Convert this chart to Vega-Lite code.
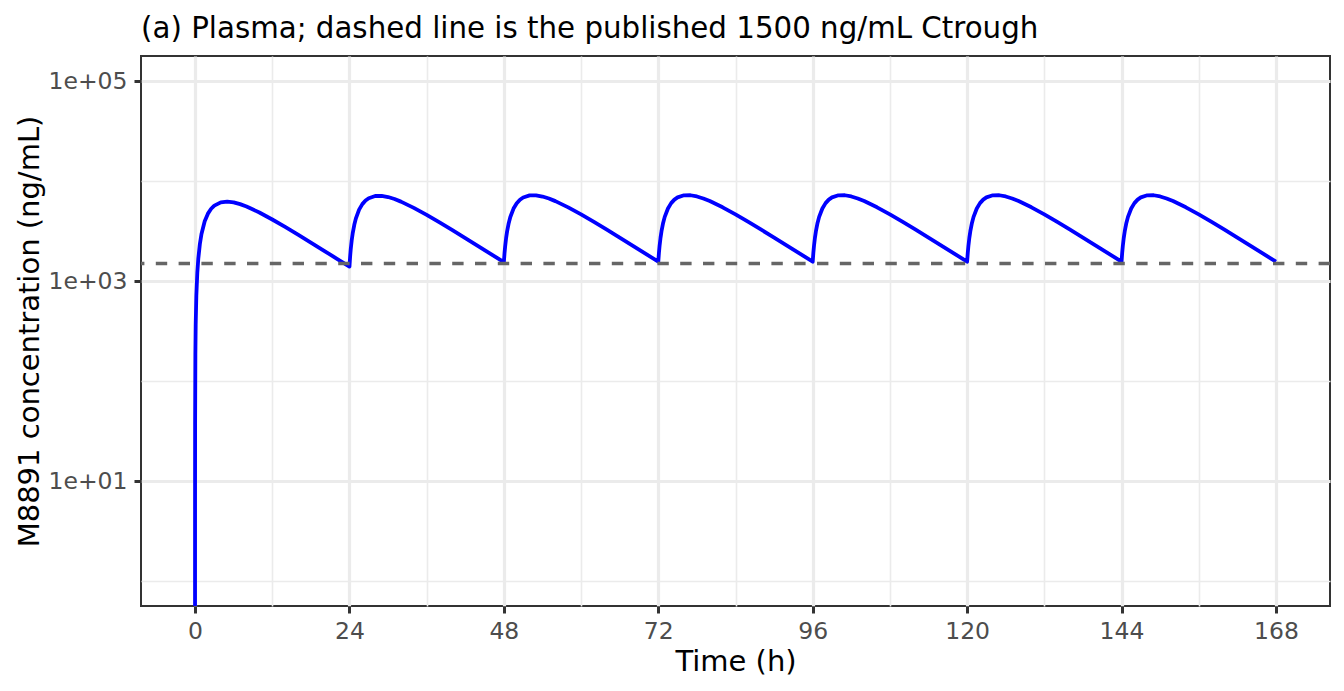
{
  "$schema": "https://vega.github.io/schema/vega-lite/v6.json",
  "width": 1189,
  "height": 550,
  "autosize": {"type": "none"},
  "padding": {"left": 141, "top": 56, "right": 14, "bottom": 85},
  "background": "white",
  "title": {
    "text": "(a) Plasma; dashed line is the published 1500 ng/mL Ctrough",
    "anchor": "start",
    "frame": "group",
    "font": "DejaVu Sans",
    "fontSize": 29.3,
    "fontWeight": "normal",
    "color": "#000000",
    "baseline": "alphabetic",
    "offset": 19,
    "dy": 30
  },
  "config": {
    "view": {"stroke": "#333333", "strokeWidth": 2},
    "axis": {
      "domain": false,
      "gridColor": "#EBEBEB",
      "tickColor": "#333333",
      "tickWidth": 3,
      "tickSize": 7,
      "labelFont": "DejaVu Sans",
      "labelFontSize": 23.5,
      "labelColor": "#4D4D4D",
      "titleFont": "DejaVu Sans",
      "titleFontSize": 29,
      "titleFontWeight": "normal",
      "titleColor": "#000000",
      "labelOverlap": false,
      "labelFlush": false
    }
  },
  "datasets": {
    "pk": [
      {"t": 0.0001, "c": 0.373},
      {"t": 0.001, "c": 3.73},
      {"t": 0.01, "c": 37.2},
      {"t": 0.05, "c": 184.3},
      {"t": 0.1, "c": 364.4},
      {"t": 0.2, "c": 711.8},
      {"t": 0.35, "c": 1202.6},
      {"t": 0.5, "c": 1658.9},
      {"t": 0.75, "c": 2348.1},
      {"t": 1, "c": 2955.3},
      {"t": 1.5, "c": 3955.4},
      {"t": 2, "c": 4713.8},
      {"t": 2.5, "c": 5275.5},
      {"t": 3, "c": 5677.4},
      {"t": 4, "c": 6118.3},
      {"t": 5, "c": 6221.4},
      {"t": 6, "c": 6111.0},
      {"t": 7, "c": 5870.4},
      {"t": 8, "c": 5555.9},
      {"t": 10, "c": 4838.3},
      {"t": 12, "c": 4122.7},
      {"t": 14, "c": 3472.3},
      {"t": 16, "c": 2905.9},
      {"t": 18, "c": 2423.5},
      {"t": 20, "c": 2017.2},
      {"t": 22, "c": 1677.3},
      {"t": 24, "c": 1393.9},
      {"t": 24.1, "c": 1746.8},
      {"t": 24.2, "c": 2081.3},
      {"t": 24.35, "c": 2553.2},
      {"t": 24.5, "c": 2990.8},
      {"t": 24.75, "c": 3649.4},
      {"t": 25, "c": 4226.7},
      {"t": 25.5, "c": 5169.1},
      {"t": 26, "c": 5872.2},
      {"t": 26.5, "c": 6381.3},
      {"t": 27, "c": 6733.0},
      {"t": 28, "c": 7080.2},
      {"t": 29, "c": 7097.9},
      {"t": 30, "c": 6909.6},
      {"t": 31, "c": 6598.2},
      {"t": 32, "c": 6218.9},
      {"t": 34, "c": 5388.9},
      {"t": 36, "c": 4579.8},
      {"t": 38, "c": 3851.8},
      {"t": 40, "c": 3221.0},
      {"t": 42, "c": 2685.0},
      {"t": 44, "c": 2234.4},
      {"t": 46, "c": 1857.6},
      {"t": 48, "c": 1543.6},
      {"t": 48.1, "c": 1895.2},
      {"t": 48.2, "c": 2228.3},
      {"t": 48.35, "c": 2698.2},
      {"t": 48.5, "c": 3133.8},
      {"t": 48.75, "c": 3789.1},
      {"t": 49, "c": 4363.2},
      {"t": 49.5, "c": 5299.4},
      {"t": 50, "c": 5996.5},
      {"t": 50.5, "c": 6500.0},
      {"t": 51, "c": 6846.3},
      {"t": 52, "c": 7183.4},
      {"t": 53, "c": 7192.0},
      {"t": 54, "c": 6995.3},
      {"t": 55, "c": 6676.3},
      {"t": 56, "c": 6290.1},
      {"t": 58, "c": 5448.0},
      {"t": 60, "c": 4628.9},
      {"t": 62, "c": 3892.5},
      {"t": 64, "c": 3254.8},
      {"t": 66, "c": 2713.1},
      {"t": 68, "c": 2257.7},
      {"t": 70, "c": 1877.0},
      {"t": 72, "c": 1559.7},
      {"t": 72.1, "c": 1912.6},
      {"t": 72.2, "c": 2245.5},
      {"t": 72.35, "c": 2715.2},
      {"t": 72.5, "c": 3150.6},
      {"t": 72.75, "c": 3805.5},
      {"t": 73, "c": 4379.2},
      {"t": 73.5, "c": 5314.7},
      {"t": 74, "c": 6011.1},
      {"t": 74.5, "c": 6513.9},
      {"t": 75, "c": 6859.6},
      {"t": 76, "c": 7195.5},
      {"t": 77, "c": 7203.0},
      {"t": 78, "c": 7005.3},
      {"t": 79, "c": 6685.5},
      {"t": 80, "c": 6298.4},
      {"t": 82, "c": 5454.9},
      {"t": 84, "c": 4634.6},
      {"t": 86, "c": 3897.3},
      {"t": 88, "c": 3258.8},
      {"t": 90, "c": 2716.4},
      {"t": 92, "c": 2260.4},
      {"t": 94, "c": 1879.3},
      {"t": 96, "c": 1561.6},
      {"t": 96.1, "c": 1912.6},
      {"t": 96.2, "c": 2245.5},
      {"t": 96.35, "c": 2715.2},
      {"t": 96.5, "c": 3150.6},
      {"t": 96.75, "c": 3805.5},
      {"t": 97, "c": 4379.2},
      {"t": 97.5, "c": 5314.7},
      {"t": 98, "c": 6011.1},
      {"t": 98.5, "c": 6513.9},
      {"t": 99, "c": 6859.6},
      {"t": 100, "c": 7195.5},
      {"t": 101, "c": 7203.0},
      {"t": 102, "c": 7005.3},
      {"t": 103, "c": 6685.5},
      {"t": 104, "c": 6298.4},
      {"t": 106, "c": 5454.9},
      {"t": 108, "c": 4634.6},
      {"t": 110, "c": 3897.3},
      {"t": 112, "c": 3258.8},
      {"t": 114, "c": 2716.4},
      {"t": 116, "c": 2260.4},
      {"t": 118, "c": 1879.3},
      {"t": 120, "c": 1561.6},
      {"t": 120.1, "c": 1912.6},
      {"t": 120.2, "c": 2245.5},
      {"t": 120.35, "c": 2715.2},
      {"t": 120.5, "c": 3150.6},
      {"t": 120.75, "c": 3805.5},
      {"t": 121, "c": 4379.2},
      {"t": 121.5, "c": 5314.7},
      {"t": 122, "c": 6011.1},
      {"t": 122.5, "c": 6513.9},
      {"t": 123, "c": 6859.6},
      {"t": 124, "c": 7195.5},
      {"t": 125, "c": 7203.0},
      {"t": 126, "c": 7005.3},
      {"t": 127, "c": 6685.5},
      {"t": 128, "c": 6298.4},
      {"t": 130, "c": 5454.9},
      {"t": 132, "c": 4634.6},
      {"t": 134, "c": 3897.3},
      {"t": 136, "c": 3258.8},
      {"t": 138, "c": 2716.4},
      {"t": 140, "c": 2260.4},
      {"t": 142, "c": 1879.3},
      {"t": 144, "c": 1561.6},
      {"t": 144.1, "c": 1912.6},
      {"t": 144.2, "c": 2245.5},
      {"t": 144.35, "c": 2715.2},
      {"t": 144.5, "c": 3150.6},
      {"t": 144.75, "c": 3805.5},
      {"t": 145, "c": 4379.2},
      {"t": 145.5, "c": 5314.7},
      {"t": 146, "c": 6011.1},
      {"t": 146.5, "c": 6513.9},
      {"t": 147, "c": 6859.6},
      {"t": 148, "c": 7195.5},
      {"t": 149, "c": 7203.0},
      {"t": 150, "c": 7005.3},
      {"t": 151, "c": 6685.5},
      {"t": 152, "c": 6298.4},
      {"t": 154, "c": 5454.9},
      {"t": 156, "c": 4634.6},
      {"t": 158, "c": 3897.3},
      {"t": 160, "c": 3258.8},
      {"t": 162, "c": 2716.4},
      {"t": 164, "c": 2260.4},
      {"t": 166, "c": 1879.3},
      {"t": 168, "c": 1561.6}
    ],
    "ref": [{"c": 1500}]
  },
  "layer": [
    {
      "data": {"name": "pk"},
      "mark": {"type": "line", "color": "#0000FF", "strokeWidth": 3.8, "clip": true, "strokeJoin": "round"},
      "encoding": {
        "x": {
          "field": "t",
          "type": "quantitative",
          "scale": {"domain": [-8.4, 176.4], "nice": false, "zero": false},
          "axis": {
            "values": [0, 12, 24, 36, 48, 60, 72, 84, 96, 108, 120, 132, 144, 156, 168],
            "labelExpr": "datum.value % 24 == 0 ? datum.label : ''",
            "gridWidth": {"condition": {"test": "datum.value % 24 == 0", "value": 3.2}, "value": 1.6},
            "tickOpacity": {"condition": {"test": "datum.value % 24 == 0", "value": 1}, "value": 0},
            "labelPadding": 6,
            "title": "Time (h)",
            "titleBaseline": "alphabetic",
            "titleY": 64
          }
        },
        "y": {
          "field": "c",
          "type": "quantitative",
          "scale": {"type": "log", "domain": [0.5623413, 177827.94], "nice": false},
          "axis": {
            "values": [1, 10, 100, 1000, 10000, 100000],
            "labelExpr": "datum.value == 10 ? '1e+01' : datum.value == 1000 ? '1e+03' : datum.value == 100000 ? '1e+05' : ''",
            "gridWidth": {"condition": {"test": "datum.value == 10 || datum.value == 1000 || datum.value == 100000", "value": 3.2}, "value": 1.6},
            "tickOpacity": {"condition": {"test": "datum.value == 10 || datum.value == 1000 || datum.value == 100000", "value": 1}, "value": 0},
            "labelPadding": 7,
            "labelBaseline": "middle",
            "title": "M8891 concentration (ng/mL)",
            "titleBaseline": "alphabetic",
            "titleX": -103
          }
        }
      }
    },
    {
      "data": {"name": "ref"},
      "mark": {"type": "rule", "color": "#666666", "strokeWidth": 3.5, "strokeDash": [11.4, 11.4]},
      "encoding": {
        "y": {"field": "c", "type": "quantitative"}
      }
    }
  ]
}
